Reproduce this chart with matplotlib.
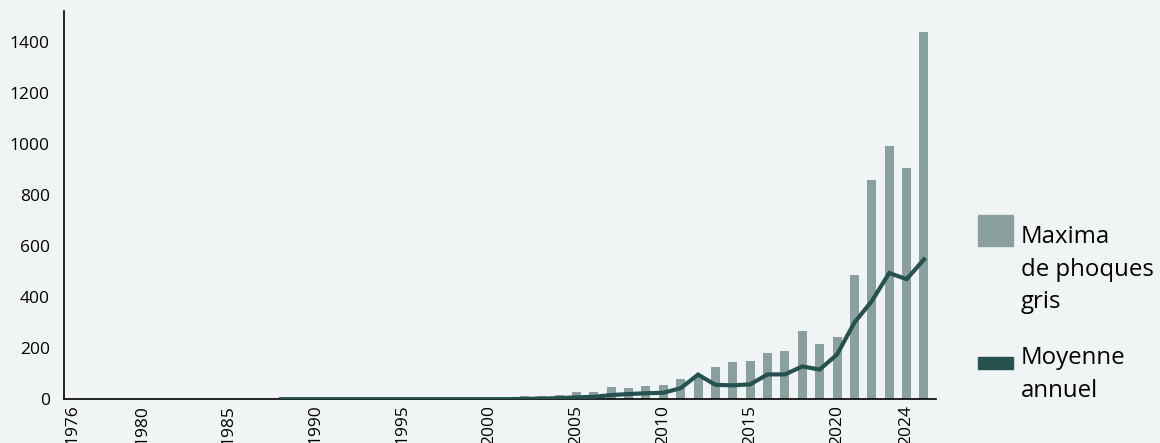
import matplotlib.pyplot as plt
from matplotlib.patches import Rectangle

years = list(range(1976, 2026))

# Maxima de phoques gris (bars), 1976-2025; nothing visible before 2000
maxima = [0] * 24 + [
    3, 5, 12, 12, 16, 27, 27, 47, 43, 50,      # 2000-2009
    54, 78, 96, 124, 144, 148, 179, 190, 266, 216,  # 2010-2019
    243, 488, 858, 990, 905, 1438,             # 2020-2025
]

# Moyenne annuelle (line), starts in 1988
mean_years = list(range(1988, 2026))
mean_vals = [0] * 14 + [
    1, 2, 4, 7, 9, 16, 20, 23,                 # 2002-2009
    25, 43, 96, 56, 54, 58, 97, 97, 128, 116,  # 2010-2019
    175, 300, 384, 494, 470, 547,              # 2020-2025
]

tick_years = [1976, 1980, 1985, 1990, 1995, 2000, 2005, 2010, 2015, 2020, 2024]

bg = "#f1f4f5"
bar_color = "#89a09f"
line_color = "#25524f"

plt.rcParams["font.family"] = ["Open Sans", "DejaVu Sans"]

fig = plt.figure(figsize=(11.6, 4.43), dpi=100, facecolor=bg)
ax = fig.add_axes([0.055, 0.099, 0.752, 0.876], facecolor=bg)

ax.bar(years, maxima, width=0.52, color=bar_color, zorder=2)
ax.plot(mean_years, mean_vals, color=line_color, linewidth=3, zorder=3,
        solid_joinstyle="miter")

ax.set_xlim(1975.5, 2025.7)
ax.set_ylim(0, 1520)
ax.set_yticks(range(0, 1401, 200))
ax.set_xticks(tick_years)
ax.set_xticklabels([str(y) for y in tick_years], rotation=90)
ax.tick_params(axis="both", length=0, labelsize=12.5, colors="black")
ax.tick_params(axis="x", pad=4)
ax.tick_params(axis="y", pad=10)

for side in ["top", "right"]:
    ax.spines[side].set_visible(False)
for side in ["left", "bottom"]:
    ax.spines[side].set_linewidth(1.2)

# legend, drawn by hand to keep swatches aligned with the first text line
W, H = 1160, 443
fig.add_artist(Rectangle((978 / W, 1 - 246 / H), 35 / W, 31 / H,
                         transform=fig.transFigure, color=bar_color))
fig.text(1021 / W, 1 - 225 / H, "Maxima\nde phoques\ngris", fontsize=17.3,
         va="top", ha="left", linespacing=1.48)
fig.add_artist(Rectangle((978 / W, 1 - 369 / H), 35 / W, 12 / H,
                         transform=fig.transFigure, color=line_color))
fig.text(1021 / W, 1 - 346 / H, "Moyenne\nannuel", fontsize=17.3,
         va="top", ha="left", linespacing=1.48)

fig.savefig("out.png", dpi=100, facecolor=bg)
